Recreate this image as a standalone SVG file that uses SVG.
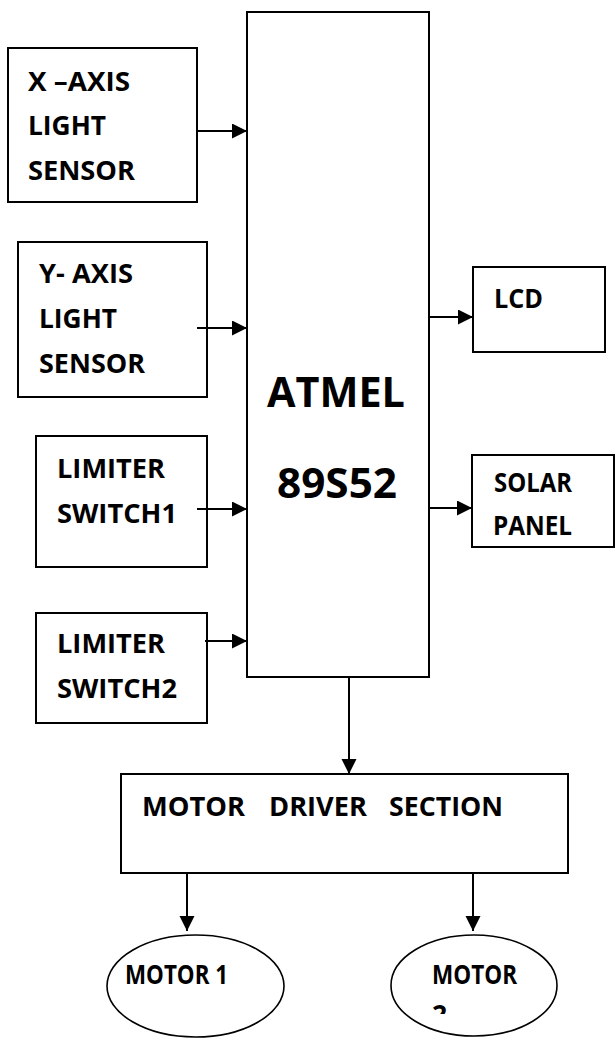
<svg xmlns="http://www.w3.org/2000/svg" width="616" height="1038" viewBox="0 0 616 1038">
<style>
.box{fill:#fff;stroke:#000;stroke-width:2}
.ell{fill:#fff;stroke:#000;stroke-width:1.6}
.lbl{font-family:"Open Sans","Noto Sans","Liberation Sans",sans-serif;font-weight:bold;font-size:26.5px;fill:#000}
.big{font-family:"Open Sans","Noto Sans","Liberation Sans",sans-serif;font-weight:bold;font-size:41px;fill:#000}
.con{stroke:#000;stroke-width:2;fill:none;marker-end:url(#arr)}
</style>
<defs>
<marker id="arr" markerUnits="userSpaceOnUse" markerWidth="16" markerHeight="16" refX="15" refY="7.5" orient="auto">
<path d="M0,0 L15,7.5 L0,15 z" fill="#000"/>
</marker>
<clipPath id="clip2"><rect x="380" y="900" width="200" height="114"/></clipPath>
</defs>
<g id="atmel">
<rect class="box" x="247" y="12" width="182" height="665"/>
<text class="big" x="267" y="407" textLength="138" lengthAdjust="spacingAndGlyphs">ATMEL</text>
<text class="big" x="277" y="498" textLength="120" lengthAdjust="spacingAndGlyphs">89S52</text>
</g>
<g id="xaxis">
<rect class="box" x="8" y="48" width="189" height="154"/>
<text class="lbl" x="28" y="91" textLength="102" lengthAdjust="spacingAndGlyphs">X –AXIS</text>
<text class="lbl" x="28" y="135" textLength="78" lengthAdjust="spacingAndGlyphs">LIGHT</text>
<text class="lbl" x="28" y="180" textLength="107" lengthAdjust="spacingAndGlyphs">SENSOR</text>
</g>
<g id="yaxis">
<rect class="box" x="18" y="242" width="189" height="155"/>
<text class="lbl" x="39" y="283" textLength="94" lengthAdjust="spacingAndGlyphs">Y- AXIS</text>
<text class="lbl" x="39" y="328" textLength="78" lengthAdjust="spacingAndGlyphs">LIGHT</text>
<text class="lbl" x="39" y="373" textLength="106" lengthAdjust="spacingAndGlyphs">SENSOR</text>
</g>
<g id="limiter1">
<rect class="box" x="36" y="436" width="171" height="131"/>
<text class="lbl" x="57" y="478" textLength="108" lengthAdjust="spacingAndGlyphs">LIMITER</text>
<text class="lbl" x="57" y="523" textLength="120" lengthAdjust="spacingAndGlyphs">SWITCH1</text>
</g>
<g id="limiter2">
<rect class="box" x="36" y="613" width="171" height="110"/>
<text class="lbl" x="57" y="653" textLength="108" lengthAdjust="spacingAndGlyphs">LIMITER</text>
<text class="lbl" x="57" y="698" textLength="120" lengthAdjust="spacingAndGlyphs">SWITCH2</text>
</g>
<g id="lcd">
<rect class="box" x="473" y="267" width="132" height="85"/>
<text class="lbl" x="494" y="308" textLength="49" lengthAdjust="spacingAndGlyphs">LCD</text>
</g>
<g id="solar">
<rect class="box" x="472" y="455" width="142" height="92"/>
<text class="lbl" x="494" y="492" textLength="78" lengthAdjust="spacingAndGlyphs">SOLAR</text>
<text class="lbl" x="493" y="535" textLength="79" lengthAdjust="spacingAndGlyphs">PANEL</text>
</g>
<g id="driver">
<rect class="box" x="121" y="774" width="447" height="99"/>
<text class="lbl" y="816"><tspan x="142" textLength="103" lengthAdjust="spacingAndGlyphs">MOTOR</tspan><tspan x="269" textLength="98" lengthAdjust="spacingAndGlyphs">DRIVER</tspan><tspan x="389" textLength="114" lengthAdjust="spacingAndGlyphs">SECTION</tspan></text>
</g>
<g id="motor1">
<ellipse class="ell" cx="195.5" cy="986" rx="88.5" ry="51"/>
<text class="lbl" x="125" y="984" textLength="103" lengthAdjust="spacingAndGlyphs">MOTOR 1</text>
</g>
<g id="motor2">
<ellipse class="ell" cx="474" cy="985.5" rx="83" ry="50.5"/>
<text class="lbl" x="432" y="984" textLength="85" lengthAdjust="spacingAndGlyphs">MOTOR</text>
<text class="lbl" x="432" y="1024" clip-path="url(#clip2)">2</text>
</g>
<g id="connectors">
<line class="con" x1="197" y1="131" x2="247" y2="131"/>
<line class="con" x1="197" y1="328" x2="247" y2="328"/>
<line class="con" x1="197" y1="509" x2="247" y2="509"/>
<line class="con" x1="205" y1="641" x2="247" y2="641"/>
<line class="con" x1="429" y1="317" x2="473" y2="317"/>
<line class="con" x1="429" y1="508" x2="472" y2="508"/>
<line class="con" x1="349" y1="677" x2="349" y2="774"/>
<line class="con" x1="187" y1="873" x2="187" y2="931"/>
<line class="con" x1="473" y1="873" x2="473" y2="931"/>
</g>
</svg>
